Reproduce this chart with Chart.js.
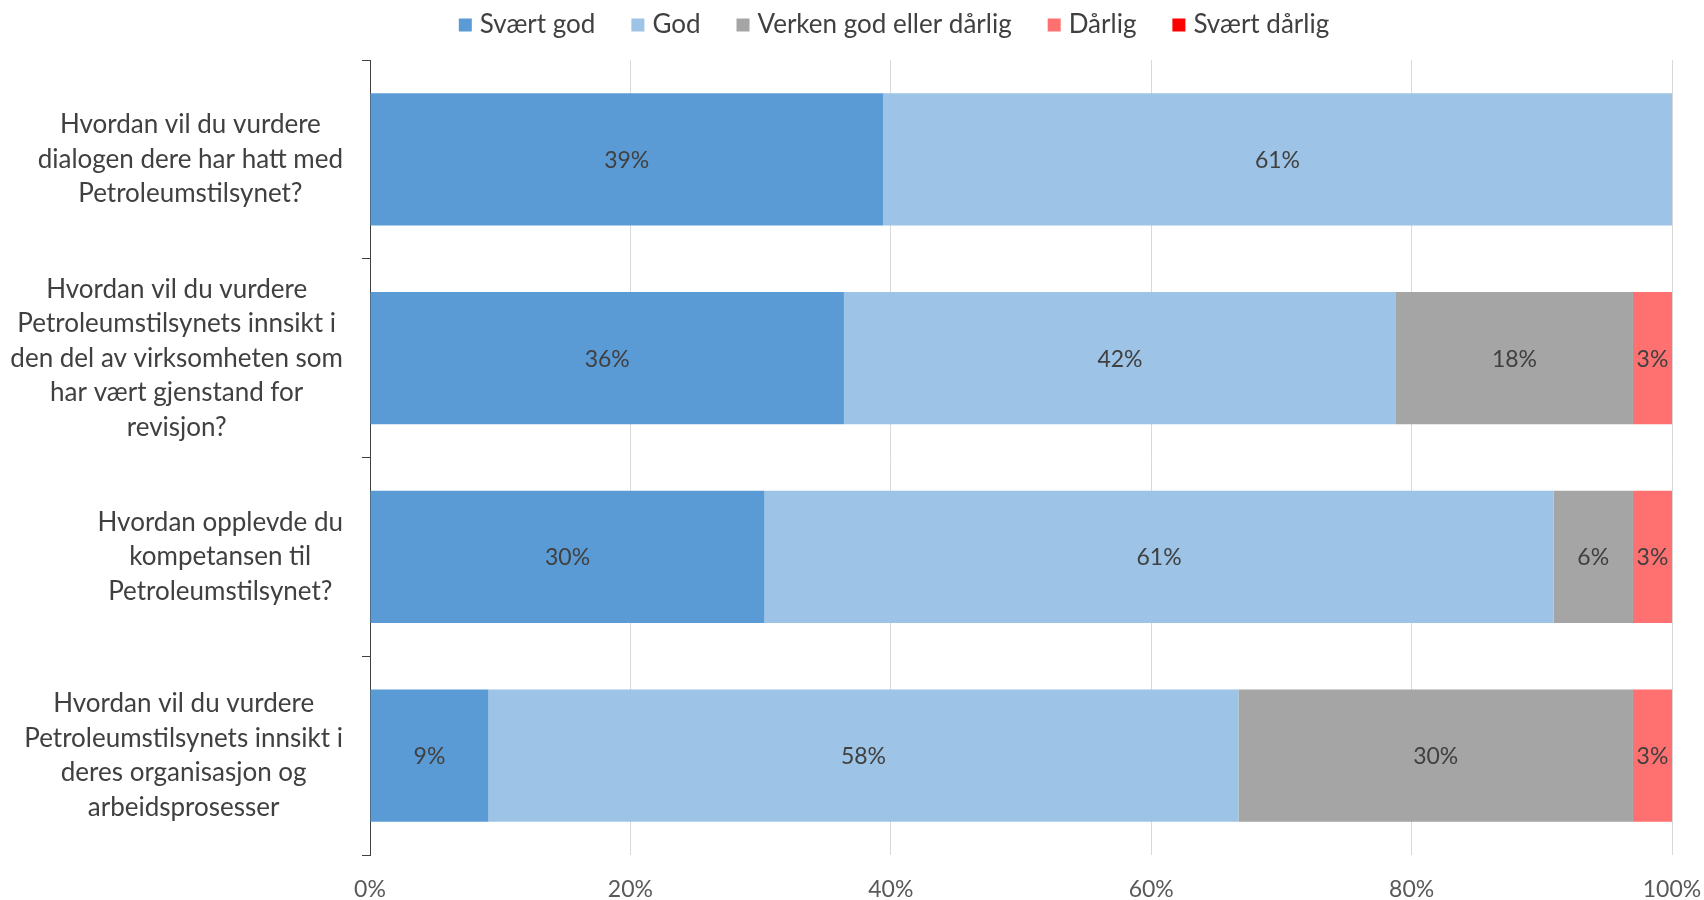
<!DOCTYPE html>
<html>
<head>
<meta charset="utf-8">
<script src="https://cdn.jsdelivr.net/npm/chart.js@4.4.1/dist/chart.umd.min.js"></script>
<style>
html,body{margin:0;padding:0;background:#fff;}
#wrap{width:1704px;height:900px;}
</style>
</head>
<body>
<div id="wrap"><canvas id="c" width="1704" height="900"></canvas></div>
<script>
const categories = [
  ["Hvordan vil du vurdere", "dialogen dere har hatt med", "Petroleumstilsynet?"],
  ["Hvordan vil du vurdere", "Petroleumstilsynets innsikt i", "den del av virksomheten som", "har vært gjenstand for", "revisjon?"],
  ["Hvordan opplevde du", "kompetansen til", "Petroleumstilsynet?"],
  ["Hvordan vil du vurdere", "Petroleumstilsynets innsikt i", "deres organisasjon og", "arbeidsprosesser"]
];
const seriesNames = ["Svært god", "God", "Verken god eller dårlig", "Dårlig", "Svært dårlig"];
const svaertGod = [39.4, 36.4, 30.3, 9.1];
const god = [60.6, 42.4, 60.6, 57.6];
const verken = [0, 18.2, 6.1, 30.3];
const darlig = [0, 3.0, 3.0, 3.0];
const svaertDarlig = [0, 0, 0, 0];
const xTicks = [0, 20, 40, 60, 80, 100];
const colors = ["#5B9BD5", "#9DC3E6", "#A5A5A5", "#FF7171", "#FF0000"];

const FONT = "Lato, 'DejaVu Sans', sans-serif";
const seriesValues = [svaertGod, god, verken, darlig, svaertDarlig];

const yLabelPlugin = {
  id: 'yLabels',
  afterDraw(chart) {
    const ctx = chart.ctx;
    const ys = chart.scales.y;
    const right = chart.chartArea.left - 27;
    const lh = 34.5;
    ctx.save();
    ctx.font = "26px " + FONT;
    ctx.fillStyle = "#404040";
    ctx.textAlign = "center";
    ctx.textBaseline = "middle";
    chart.data.labels.forEach((lines, i) => {
      const yc = ys.getPixelForTick(i);
      const maxW = Math.max(...lines.map(l => ctx.measureText(l).width));
      const cx = right - maxW / 2;
      const y0 = yc - (lines.length - 1) * lh / 2;
      lines.forEach((l, k) => ctx.fillText(l, cx, y0 + k * lh));
    });
    ctx.restore();
  }
};

const barLabelPlugin = {
  id: 'barLabels',
  afterDatasetsDraw(chart) {
    const ctx = chart.ctx;
    ctx.save();
    ctx.font = "23px " + FONT;
    ctx.fillStyle = "#404040";
    ctx.textAlign = "center";
    ctx.textBaseline = "middle";
    chart.data.datasets.forEach((ds, di) => {
      const meta = chart.getDatasetMeta(di);
      meta.data.forEach((el, i) => {
        const v = ds.data[i];
        if (!v) return;
        const p = el.getCenterPoint();
        ctx.fillText(Math.round(v) + "%", p.x, p.y + 1);
      });
    });
    ctx.restore();
  }
};

const legendPlugin = {
  id: 'customLegend',
  afterDraw(chart) {
    const ctx = chart.ctx;
    ctx.save();
    ctx.font = "26px " + FONT;
    ctx.textBaseline = "middle";
    ctx.textAlign = "left";
    const box = 13, gapText = 8, gapItem = 36, yc = 25;
    const items = chart.data.datasets.map(ds => ({label: ds.label, color: ds.backgroundColor, w: ctx.measureText(ds.label).width}));
    let total = items.reduce((s, it) => s + box + gapText + it.w, 0) + gapItem * (items.length - 1);
    let x = 894 - total / 2;
    items.forEach(it => {
      ctx.fillStyle = it.color;
      ctx.fillRect(x, yc - box / 2, box, box);
      ctx.fillStyle = "#404040";
      ctx.fillText(it.label, x + box + gapText, yc);
      x += box + gapText + it.w + gapItem;
    });
    ctx.restore();
  }
};

new Chart(document.getElementById('c'), {
  type: 'bar',
  data: {
    labels: categories,
    datasets: seriesNames.map((n, i) => ({
      label: n,
      data: seriesValues[i],
      backgroundColor: colors[i],
      borderWidth: 0,
      barPercentage: 0.665,
      categoryPercentage: 1.0
    }))
  },
  options: {
    indexAxis: 'y',
    responsive: false,
    animation: false,
    devicePixelRatio: 1,
    layout: { padding: { top: 60, right: 32, left: 0, bottom: 0 } },
    plugins: { legend: { display: false }, tooltip: { enabled: false } },
    scales: {
      x: {
        stacked: true,
        min: 0, max: 100,
        afterBuildTicks(scale) { scale.ticks = xTicks.map(v => ({ value: v })); },
        ticks: {
          callback: v => v + "%",
          color: "#595959",
          font: { family: FONT, size: 23 },
          padding: 21,
          maxRotation: 0
        },
        grid: { color: "#D9D9D9", lineWidth: 1, drawTicks: false },
        border: { display: false },
        afterFit(scale) { scale.height = 45; scale.paddingRight = 0; scale.paddingLeft = 0; }
      },
      y: {
        stacked: true,
        ticks: { display: false },
        grid: { offset: true, drawOnChartArea: false, drawTicks: true, tickLength: 8, color: "#404040" },
        border: { display: true, color: "#404040", width: 1 },
        afterFit(scale) { scale.width = 370; }
      }
    }
  },
  plugins: [yLabelPlugin, barLabelPlugin, legendPlugin]
});
</script>
</body>
</html>
